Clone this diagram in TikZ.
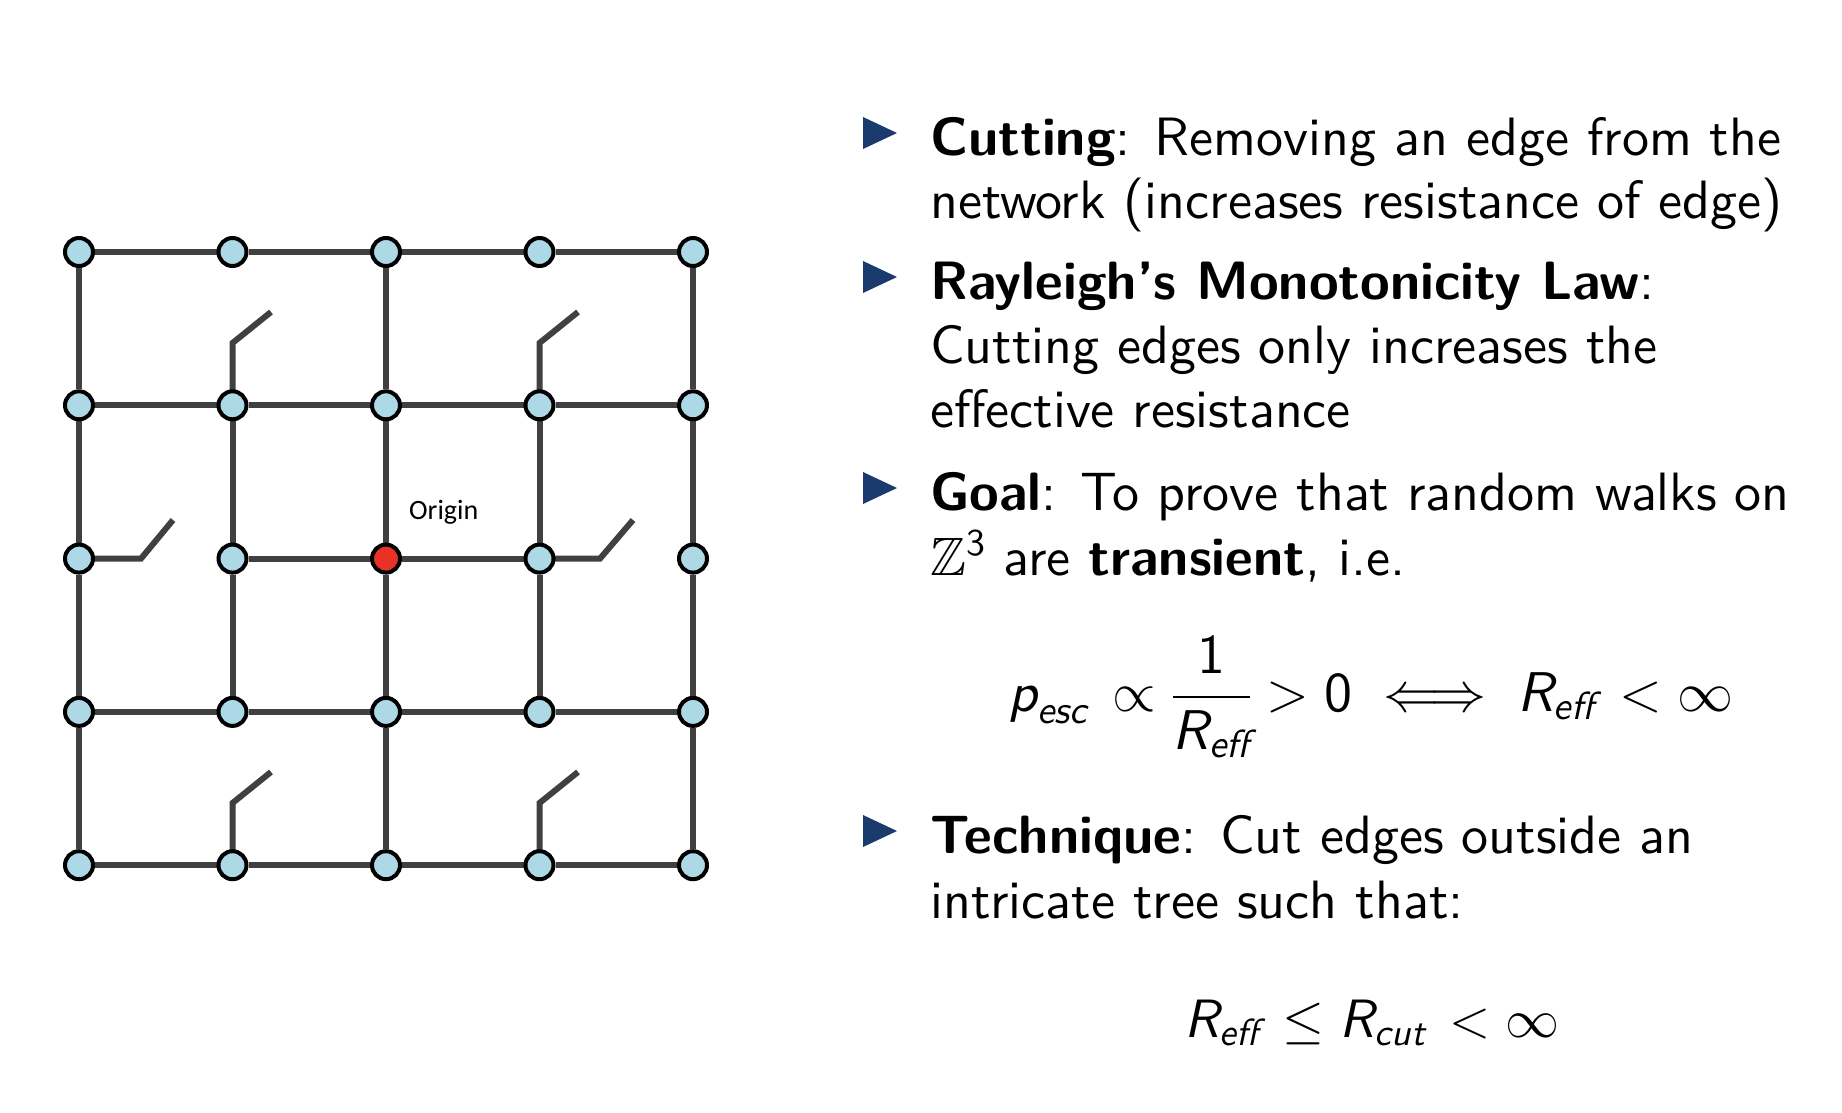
\RequirePackage{fix-cm}
\documentclass[tikz,border=0pt]{standalone}
\usepackage{amsmath,amssymb}
\usepackage{fontspec}
\setsansfont{lmsans10-regular.otf}[BoldFont=lmsans10-bold.otf, ItalicFont=lmsans10-oblique.otf, BoldItalicFont=lmsans10-boldoblique.otf]
\newfontfamily\carlito{Carlito}
\usetikzlibrary{backgrounds}
\definecolor{edgegray}{RGB}{64,64,64}
\definecolor{nodeblue}{RGB}{173,216,230}
\definecolor{origred}{RGB}{232,50,38}
\definecolor{bulletblue}{RGB}{26,59,110}
\newcommand\msf[1]{\text{\sffamily\mdseries\itshape #1}}
\tikzset{
  vtx/.style={circle, draw=black, line width=4pt, fill=nodeblue, minimum size=28pt, inner sep=0pt},
  orig/.style={vtx, fill=origred},
  edge/.style={draw=edgegray, line width=6pt},
  txt/.style={anchor=base west, inner sep=0pt, font=\sffamily\fontsize{54}{64}\selectfont},
  eqn/.style={anchor=base, inner sep=0pt, font=\sffamily\fontsize{54}{64}\selectfont},
  bul/.style={fill=bulletblue, draw=none}
}
\begin{document}
\begin{tikzpicture}[x=1pt,y=-1pt]
\useasboundingbox (0,0) rectangle (1842,1112);
% grid nodes
\foreach \i in {0,...,4}{
  \foreach \j in {0,...,4}{
    \pgfmathsetmacro\xx{79+153.5*\i}
    \pgfmathsetmacro\yy{252+153.3*\j}
    \ifnum\i=2 \ifnum\j=2
      \node[orig] (n\i\j) at (\xx,\yy) {};
    \else
      \node[vtx] (n\i\j) at (\xx,\yy) {};
    \fi\else
      \node[vtx] (n\i\j) at (\xx,\yy) {};
    \fi
  }
}
% stub coordinates
\coordinate (a11) at (232.5,343);
\coordinate (b11) at (271,312);
\coordinate (a31) at (539.5,343);
\coordinate (b31) at (578,312);
\coordinate (a14) at (232.5,803);
\coordinate (b14) at (271,772);
\coordinate (a34) at (539.5,803);
\coordinate (b34) at (578,772);
\coordinate (a02) at (141,558.6);
\coordinate (b02) at (173,520);
\coordinate (a32) at (600,558.6);
\coordinate (b32) at (633,520);
\begin{scope}[on background layer]
% horizontal edges
\foreach \j in {0,1,3,4}{
  \draw[edge] (n0\j) -- (n1\j) -- (n2\j) -- (n3\j) -- (n4\j);
}
\draw[edge] (n12) -- (n22) -- (n32);
% vertical edges
\foreach \i in {0,2,4}{
  \draw[edge] (n\i0) -- (n\i1) -- (n\i2) -- (n\i3) -- (n\i4);
}
\draw[edge] (n11) -- (n12) -- (n13);
\draw[edge] (n31) -- (n32) -- (n33);
% cut stubs
\draw[edge] (n11.center) -- (a11) -- (b11);
\draw[edge] (n31.center) -- (a31) -- (b31);
\draw[edge] (n14.center) -- (a14) -- (b14);
\draw[edge] (n34.center) -- (a34) -- (b34);
\draw[edge] (n02.center) -- (a02) -- (b02);
\draw[edge] (n32.center) -- (a32) -- (b32);
\end{scope}
\node[anchor=base west, inner sep=0pt, font=\carlito\fontsize{28}{30}\selectfont] (olabel) at (409,519) {Origin};
% bullets
\foreach \b/\yc in {b1/133, b2/277, b3/488, b4/831}{
  \fill[bul] (863,\yc-16) -- (897,\yc) -- (863,\yc+16) -- cycle;
}
% text
\node[txt] (t1) at (930,155) {\textbf{Cutting}: Removing an edge from the};
\node[txt] (t2) at (930,218) {network (increases resistance of edge)};
\node[txt] (t3) at (930,299) {\textbf{Rayleigh’s Monotonicity Law}:};
\node[txt] (t4) at (930,363) {Cutting edges only increases the};
\node[txt] (t5) at (930,427) {effective resistance};
\node[txt] (t6) at (930,510) {\textbf{Goal}: To prove that random walks on};
\node[txt] (t7) at (930,575) {$\mathbb{Z}^{\mathsf{3}}$ are \textbf{transient}, i.e.};
\node[eqn, font=\sffamily\fontsize{56}{64}\selectfont] (e1) at (1371,711) {$\displaystyle \msf{p}_{\msf{esc}}\, \propto \frac{\mathsf{1}}{\msf{R}_{\msf{eff}}} > \mathsf{0} \iff \msf{R}_{\msf{eff}}\, < \infty$};
\node[txt] (t8) at (930,853) {\textbf{Technique}: Cut edges outside an};
\node[txt] (t9) at (930,918) {intricate tree such that:};
\node[eqn] (e2) at (1372,1037) {$\msf{R}_{\msf{eff}}\, \leq \msf{R}_{\msf{cut}}\, < \infty$};
\end{tikzpicture}
\end{document}
